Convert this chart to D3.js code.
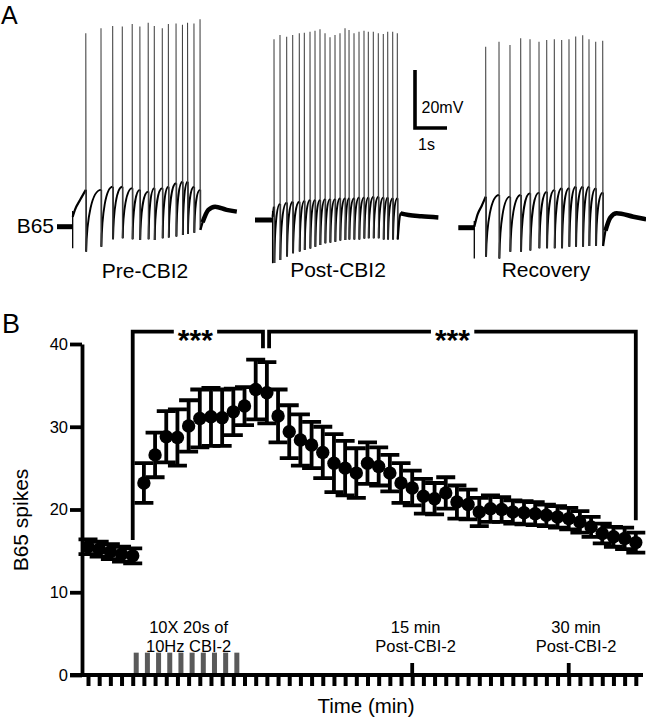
<!DOCTYPE html>
<html><head><meta charset="utf-8">
<script src="https://cdn.jsdelivr.net/npm/d3@7"></script>
<style>
body{margin:0;background:#fff}
svg{display:block}
text{font-family:"Liberation Sans",Arial,Helvetica,sans-serif;fill:#000}
</style>
</head><body>
<svg id="c" width="646" height="720"></svg>
<script>
// ================= DATA =================
// ---- Panel B: B65 spikes over time (one sample per tick) ----
const sampleIdx = [0,1,2,3,4,5,6,7,8,9,10,11,12,13,14,15,16,17,18,19,20,21,22,23,24,25,26,27,28,29,30,31,32,33,34,35,36,37,38,39,40,41,42,43,44,45,46,47,48,49];
const spikeMean = [15.5,15.2,14.9,14.6,14.4,
  23.2,26.6,28.8,28.7,30.1,31.0,31.2,31.1,31.8,32.5,
  34.5,34.1,31.3,29.4,28.4,27.8,26.9,25.6,25.0,24.4,
  25.6,25.2,24.4,23.2,22.6,21.6,21.3,22.0,20.9,
  20.6,19.7,20.1,20.0,19.7,19.6,19.5,19.3,19.1,18.9,18.5,17.9,17.1,16.7,16.5,16.0];
const spikeSem = [0.9,0.9,0.9,0.9,0.9,
  2.4,2.7,3.1,3.4,3.1,3.5,3.5,3.4,2.8,2.3,
  3.6,3.7,3.2,3.2,3.1,2.8,3.1,3.5,3.3,3.0,
  2.5,2.3,2.2,2.4,2.1,2.1,1.9,1.9,2.0,
  1.8,1.7,1.6,1.5,1.4,1.4,1.4,1.3,1.3,1.3,1.3,1.2,1.2,1.2,1.3,1.2];
const yTicks = [0,10,20,30,40];
const stimIdx = [4,5,6,7,8,9,10,11,12,13];
const stimHeight = 2.7;
const markerIdx = [29,43];
const annotations = [["10X 20s of","10Hz CBI-2"],["15 min","Post-CBI-2"],["30 min","Post-CBI-2"]];
// brackets: [startIdx, endIdx, startDrop, endDrop, top]
const brackets = [[4,15.65,16.3,39.5,41.5],[16.2,49,39.5,18.7,41.5]];
const sigLabels = ["***","***"];

// ---- Panel A: voltage traces (time s, voltage mV rel. to rest) ----
const tracePre = {
  label:"Pre-CBI2", end:5.62, stepOn:0.49, dip:-7.4,
  ramp:[[0.49,3.4],[0.56,5.8],[0.72,9.2]],
  spikeT:[0.90,1.375,1.74,2.04,2.35,2.59,2.85,3.04,3.29,3.48,3.72,3.92,4.08,4.28,4.47],
  peak:[66.7,68.4,69.2,69.0,69.9,69.0,70.3,69.2,68.4,69.9,70.1,69.6,70.3,70.1,71.5],
  trough:[-8.6,-6.9,-4.3,-4.0,-4.3,-4.6,-4.3,-4.6,-4.0,-3.7,-3.4,-2.9,-2.5,-2.1,-1.1],
  thr:[12.7,12.7,13.8,13.8,13.3,12.7,12.1,13.3,13.3,13.8,15.0,15.5,15.5,13.8,12.7],
  after:[[4.55,1.5],[4.73,5.8],[4.94,6.9],[5.3,5.8],[5.62,5.2]]
};
const tracePost = {
  label:"Post-CBI2", end:5.73, stepOn:0.55, dip:-14.9,
  ramp:[[0.55,1.1]],
  spikeT:[0.594,0.781,0.99,1.178,1.384,1.541,1.719,1.875,2.031,2.188,2.344,2.5,2.656,2.813,2.938,3.094,3.25,3.406,3.541,3.697,3.853,4.009,4.147,4.303,4.447],
  peak:[62.3,63.8,63.2,63.8,64.4,64.6,64.9,65.3,65.8,64.4,63.0,63.8,64.4,66.1,65.5,64.4,64.9,65.3,64.9,64.9,64.4,64.1,64.9,64.9,64.4],
  trough:[-14.8,-13.8,-12.6,-11.5,-10.9,-10.3,-9.8,-9.2,-8.6,-8.0,-7.8,-7.5,-7.1,-6.9,-6.7,-6.7,-6.7,-6.4,-6.3,-6.3,-6.3,-6.7,-6.7,-6.7,-6.7],
  thr:[4.6,5.5,6.0,6.3,6.3,6.6,6.9,6.9,6.9,7.2,7.2,7.2,7.5,7.5,7.5,7.5,7.8,7.8,7.8,8.0,8.0,7.8,7.8,7.5,7.5],
  after:[[4.55,2.3],[4.8,1.7],[5.2,1.3],[5.73,0.9]]
};
const traceRec = {
  label:"Recovery", end:5.87, stepOn:0.5, dip:-10.6,
  ramp:[[0.5,0.3],[0.6,4.5],[0.73,7.5]],
  spikeT:[0.856,1.272,1.615,1.95,2.241,2.522,2.763,3.0,3.231,3.459,3.669,3.888,4.084,4.294,4.513],
  peak:[62.4,64.1,63.0,65.3,65.0,64.1,64.7,65.0,64.7,65.0,65.9,66.4,65.0,64.1,64.5],
  trough:[-10.0,-10.6,-8.3,-8.3,-7.9,-7.1,-7.1,-7.1,-7.1,-6.6,-6.6,-6.6,-6.3,-6.3,-6.3],
  thr:[10.7,11.3,10.7,11.3,11.9,12.1,12.4,13.0,13.6,13.6,14.1,14.1,14.1,13.6,12.1],
  after:[[4.6,-1.0],[4.75,3.5],[4.95,5.0],[5.47,3.8],[5.87,2.9]]
};
const scaleBarMV = 20, scaleBarS = 1;

// ================= LAYOUT =================
const svg = d3.select('#c');
const FONT = '"Liberation Sans",Arial,Helvetica,sans-serif';
const pxPerS = 32, pxPerMV = 2.9;
const traceLayout = [
  {tr:tracePre,  x0:57,    yBase:226.7, lx:145, ly:278},
  {tr:tracePost, x0:255,   yBase:220,   lx:338, ly:277},
  {tr:traceRec,  x0:458.3, yBase:227.7, lx:546, ly:277}
];

// Panel letters
svg.append('text').attr('x',1).attr('y',23.5).attr('font-size',25).text('A');
svg.append('text').attr('x',2).attr('y',333).attr('font-size',27).text('B');

// ---------- Panel A ----------
function drawTrace(L){
  const tr = L.tr;
  const x = d3.scaleLinear().domain([0,1]).range([L.x0, L.x0+pxPerS]);
  const y = d3.scaleLinear().domain([0,20]).range([L.yBase, L.yBase-20*pxPerMV]);
  const g = svg.append('g').attr('fill','none').attr('stroke','#000');
  const line = d3.line().x(d=>x(d[0])).y(d=>y(d[1])).curve(d3.curveMonotoneX);
  const n = tr.spikeT.length, dt = 0.012;
  g.append('path').attr('d', line([[0,0],[tr.stepOn,0]])).attr('stroke-width',5);
  g.append('line').attr('x1',x(tr.stepOn)).attr('x2',x(tr.stepOn))
    .attr('y1',y(tr.ramp[0][1]+2)).attr('y2',y(tr.dip)).attr('stroke-width',1.3);
  g.append('path').attr('d', line(tr.ramp.concat([[tr.spikeT[0], tr.thr[0]]]))).attr('stroke-width',2.2);
  const p = d3.path();
  for(let i=0;i<n-1;i++){
    const ax = x(tr.spikeT[i]+dt), ay = y(tr.trough[i]);
    const bx = x(tr.spikeT[i+1]), by = y(tr.thr[i+1]);
    const dx = bx-ax, dy = by-ay;
    p.moveTo(ax,ay);
    p.bezierCurveTo(ax+0.05*dx, ay+0.55*dy, ax+0.4*dx, by, bx, by);
  }
  g.append('path').attr('d', p.toString()).attr('stroke-width',1.9);
  const lo = d3.path();
  for(let i=0;i<n;i++){
    lo.moveTo(x(tr.spikeT[i]+dt), y(tr.thr[i]));
    lo.lineTo(x(tr.spikeT[i]+dt), y(tr.trough[i]));
  }
  g.append('path').attr('d', lo.toString()).attr('stroke-width',1.5);
  const sp = d3.path();
  for(let i=0;i<n;i++){
    sp.moveTo(x(tr.spikeT[i]), y(tr.thr[i]));
    sp.lineTo(x(tr.spikeT[i]), y(tr.peak[i]));
    sp.lineTo(x(tr.spikeT[i]+dt), y(tr.trough[i]));
  }
  g.append('path').attr('d', sp.toString()).attr('stroke','#444').attr('stroke-width',1.05);
  const last = [tr.spikeT[n-1]+dt, tr.trough[n-1]];
  g.append('path').attr('d', line([last, tr.after[0], tr.after[1]])).attr('stroke-width',2.2);
  g.append('path').attr('d', line(tr.after)).attr('stroke-width',4.5);
  svg.append('text').attr('x',L.lx).attr('y',L.ly).attr('text-anchor','middle')
    .attr('font-size',21).text(tr.label);
}
traceLayout.forEach(drawTrace);
svg.append('text').attr('x',54).attr('y',233).attr('text-anchor','end').attr('font-size',21).text('B65');

// scale bar
{
  const sx = d3.scaleLinear().domain([0,1]).range([415, 415+pxPerS]);
  const sy = d3.scaleLinear().domain([0,20]).range([128, 128-20*pxPerMV]);
  svg.append('path')
    .attr('d', `M${sx(0)},${sy(scaleBarMV)}V${sy(0)}H${sx(scaleBarS)}`)
    .attr('fill','none').attr('stroke','#000').attr('stroke-width',3.6);
  svg.append('text').attr('x',421.5).attr('y',113).attr('font-size',16).text(scaleBarMV+'mV');
  svg.append('text').attr('x',418).attr('y',150).attr('font-size',16).text(scaleBarS+'s');
}

// ---------- Panel B ----------
const xB = d3.scaleLinear().domain([0,49]).range([88, 635.8]);
const yB = d3.scaleLinear().domain([0,40]).range([675, 344]);
const SW = 3.8;

svg.append('g').selectAll('rect').data(stimIdx).join('rect')
  .attr('x', d=>xB(d)+1).attr('width',5)
  .attr('y', yB(stimHeight)).attr('height', yB(0)-yB(stimHeight))
  .attr('fill','#5a5a5a');

const gx = svg.append('g').attr('transform','translate(0,675)')
  .call(d3.axisBottom(xB).tickValues(sampleIdx).tickSize(11).tickFormat('').tickSizeOuter(0));
gx.select('.domain').remove();
gx.selectAll('.tick line').attr('stroke','#000').attr('stroke-width',4);
svg.append('line').attr('x1',70).attr('x2',643).attr('y1',675).attr('y2',675)
  .attr('stroke','#000').attr('stroke-width',SW);
svg.append('g').selectAll('line').data(markerIdx).join('line')
  .attr('x1',d=>xB(d)).attr('x2',d=>xB(d)).attr('y1',675).attr('y2',663)
  .attr('stroke','#000').attr('stroke-width',SW);

const gy = svg.append('g').attr('transform','translate(82,0)')
  .call(d3.axisLeft(yB).tickValues(yTicks).tickSize(12).tickPadding(2).tickSizeOuter(0));
gy.attr('font-family',FONT).attr('font-size',16.5);
gy.select('.domain').attr('stroke','#000').attr('stroke-width',SW);
gy.selectAll('.tick line').attr('stroke','#000').attr('stroke-width',SW);
gy.selectAll('.tick text').attr('fill','#000');

svg.append('text').attr('transform','translate(28,520) rotate(-90)')
  .attr('text-anchor','middle').attr('font-size',21).text('B65 spikes');
svg.append('text').attr('x',366).attr('y',713).attr('text-anchor','middle')
  .attr('font-size',20.5).text('Time (min)');

const annX = [9.0, 29.3, 43.65];
annotations.forEach((lines,k)=>{
  lines.forEach((s,j)=>{
    svg.append('text').attr('x',xB(annX[k])).attr('y',633+19*j)
      .attr('text-anchor','middle').attr('font-size',16.5).text(s);
  });
});

const pts = sampleIdx.map((t,i)=>({t, m:spikeMean[i], e:spikeSem[i]}));
const eb = svg.append('g').attr('stroke','#000').attr('stroke-width',SW).attr('fill','none');
eb.selectAll('path').data(pts).join('path')
  .attr('d', d=>{
    const cx = xB(d.t), y1 = yB(d.m+d.e), y2 = yB(d.m-d.e);
    return `M${cx-9.5},${y1}H${cx+9.5}M${cx},${y1}V${y2}M${cx-9.5},${y2}H${cx+9.5}`;
  });
svg.append('g').selectAll('circle').data(pts).join('circle')
  .attr('cx',d=>xB(d.t)).attr('cy',d=>yB(d.m)).attr('r',6.7).attr('fill','#000');

const sigX = [9.6, 32.6];
brackets.forEach((b,k)=>{
  const [a, z, da, dz, top] = b;
  svg.append('path')
    .attr('d', `M${xB(a)},${yB(da)}V${yB(top)}H${xB(z)}V${yB(dz)}`)
    .attr('fill','none').attr('stroke','#000').attr('stroke-width',SW);
  const t = svg.append('text').attr('x',xB(sigX[k])).attr('y',yB(top)+18)
    .attr('text-anchor','middle').attr('font-size',30).attr('font-weight','bold').text(sigLabels[k]);
  const bb = t.node().getBBox();
  svg.insert('rect', () => t.node())
    .attr('x', bb.x-4).attr('width', bb.width+8)
    .attr('y', yB(top)-4).attr('height', 8).attr('fill','#fff');
});
</script>
</body></html>
